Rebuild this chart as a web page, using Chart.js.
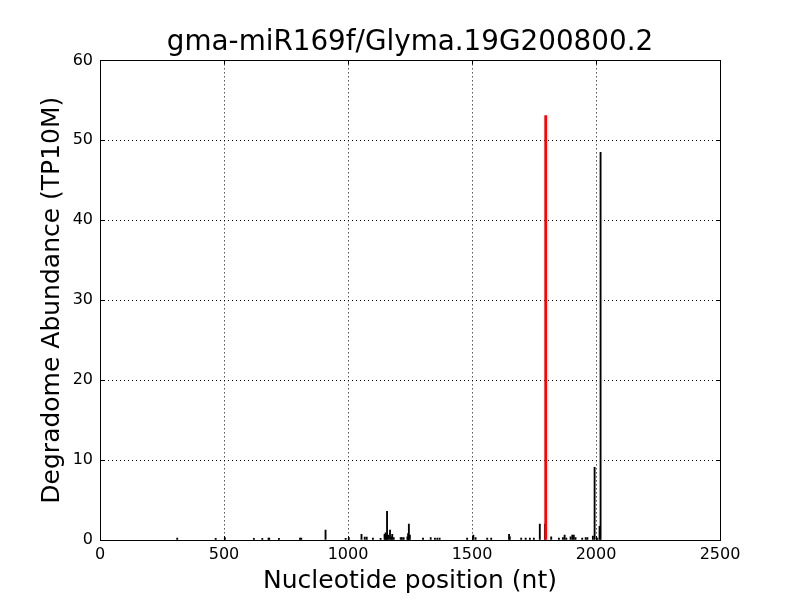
<!DOCTYPE html>
<html><head><meta charset="utf-8">
<script src="https://cdn.jsdelivr.net/npm/chart.js@4"></script>
<style>html,body{margin:0;padding:0;background:#fff}#w{width:800px;height:600px}</style>
</head><body><div id="w"><canvas id="c" width="800" height="600"></canvas></div>
<script>
const chartTitle = "gma-miR169f/Glyma.19G200800.2";
const xLabel = "Nucleotide position (nt)";
const yLabel = "Degradome Abundance (TP10M)";
const xTicks = [0, 500, 1000, 1500, 2000, 2500];
const yTicks = [0, 10, 20, 30, 40, 50, 60];
const positions = [309,464,501,618,652,677,680,719,804,809,907,988,1001,1052,1065,1073,1098,1129,1145,1149,1152,1155,1160,1167,1172,1176,1182,1210,1215,1222,1237,1240,1243,1247,1300,1331,1348,1358,1367,1478,1503,1512,1559,1575,1647,1650,1696,1714,1731,1747,1771,1792,1817,1848,1864,1871,1878,1895,1902,1908,1915,1942,1956,1963,1985,1992,2003,2012,2016];
const abundance = [0.25,0.2,0.3,0.2,0.2,0.25,0.25,0.2,0.25,0.25,1.25,0.2,0.3,0.7,0.35,0.35,0.25,0.2,0.7,0.9,0.6,3.6,0.6,1.25,0.4,0.7,0.3,0.3,0.3,0.3,0.4,0.8,2.0,0.6,0.25,0.3,0.25,0.25,0.25,0.25,0.6,0.3,0.25,0.25,0.7,0.4,0.25,0.25,0.25,0.25,2.0,2.0,0.4,0.25,0.3,0.6,0.25,0.4,0.6,0.6,0.3,0.25,0.3,0.3,0.5,9.1,0.25,1.7,48.5];
const sitePositions = [1801];
const siteAbundance = [53.1];

const frame = {
  id: 'frame',
  afterDraw(chart) {
    const {ctx, chartArea: a, scales} = chart;
    ctx.save();
    ctx.strokeStyle = '#000'; ctx.lineWidth = 1;
    ctx.strokeRect(Math.round(a.left)+0.5, Math.round(a.top)+0.5, Math.round(a.right-a.left), Math.round(a.bottom-a.top));
    ctx.beginPath();
    xTicks.forEach(v => { const p = Math.round(scales.x.getPixelForValue(v))+0.5;
      ctx.moveTo(p, a.bottom); ctx.lineTo(p, a.bottom-4); ctx.moveTo(p, a.top); ctx.lineTo(p, a.top+4); });
    yTicks.forEach(v => { const p = Math.round(scales.y.getPixelForValue(v))+0.5;
      ctx.moveTo(a.left, p); ctx.lineTo(a.left+4, p); ctx.moveTo(a.right, p); ctx.lineTo(a.right-4, p); });
    ctx.stroke();
    ctx.restore();
  }
};

new Chart(document.getElementById('c'), {
  type: 'bar',
  data: {
    datasets: [
      { data: positions.map((p,i)=>({x:p,y:abundance[i]})), backgroundColor:'#000', barThickness:1.2, order:2 },
      { data: sitePositions.map((p,i)=>({x:p,y:siteAbundance[i]})), backgroundColor:'#ff0000', barThickness:2, order:1 }
    ]
  },
  options: {
    responsive:false, animation:false,
    layout:{ padding:{ left:0, right:80, top:0, bottom:0 } },
    plugins:{
      legend:{display:false}, tooltip:{enabled:false},
      title:{ display:true, fullSize:false, text:chartTitle, color:'#000',
        font:{family:'DejaVu Sans', size:27.8, weight:'normal'}, padding:{top:26,bottom:1} }
    },
    scales:{
      x:{ type:'linear', min:0, max:2500, offset:false,
        afterFit(s){ s.height = 60; },
        afterBuildTicks(s){ s.ticks = xTicks.map(v=>({value:v})); },
        grid:{ color:'#000', lineWidth:1, drawTicks:false, offset:false },
        border:{ display:false, dash:[1,3] },
        ticks:{ color:'#000', font:{family:'DejaVu Sans', size:16}, padding:5, maxRotation:0, callback:v=>String(v) },
        title:{ display:true, text:xLabel, color:'#000', font:{family:'DejaVu Sans', size:25}, padding:{top:0,bottom:4} }
      },
      y:{ min:0, max:60,
        afterFit(s){ s.width = 100; },
        afterBuildTicks(s){ s.ticks = yTicks.map(v=>({value:v})); },
        grid:{ color:'#000', lineWidth:1, drawTicks:false },
        border:{ display:false, dash:[1,3] },
        ticks:{ color:'#000', font:{family:'DejaVu Sans', size:16}, padding:7, callback:v=>String(v) },
        title:{ display:true, text:yLabel, color:'#000', font:{family:'DejaVu Sans', size:25}, padding:{top:37,bottom:0} }
      }
    }
  },
  plugins:[frame]
});
</script></body></html>
